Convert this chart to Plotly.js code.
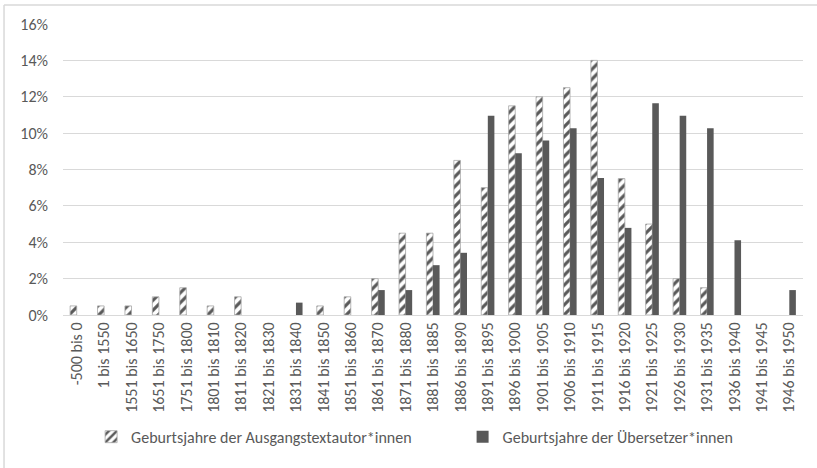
<!DOCTYPE html>
<html>
<head>
<meta charset="utf-8">
<script src="https://cdn.plot.ly/plotly-3.0.1.min.js"></script>
<style>
html,body{margin:0;padding:0;background:#fff;}
#chart{width:817px;height:468px;}
</style>
</head>
<body>
<div id="chart"></div>
<script>
var categories = ["-500 bis 0","1 bis 1550","1551 bis 1650","1651 bis 1750","1751 bis 1800","1801 bis 1810","1811 bis 1820","1821 bis 1830","1831 bis 1840","1841 bis 1850","1851 bis 1860","1861 bis 1870","1871 bis 1880","1881 bis 1885","1886 bis 1890","1891 bis 1895","1896 bis 1900","1901 bis 1905","1906 bis 1910","1911 bis 1915","1916 bis 1920","1921 bis 1925","1926 bis 1930","1931 bis 1935","1936 bis 1940","1941 bis 1945","1946 bis 1950"];
var authorValues = [0.005,0.005,0.005,0.010,0.015,0.005,0.010,null,null,0.005,0.010,0.020,0.045,0.045,0.085,0.070,0.115,0.120,0.125,0.140,0.075,0.050,0.020,0.015,null,null,null];
var translatorValues = [null,null,null,null,null,null,null,null,0.0068,null,null,0.0137,0.0137,0.0274,0.0342,0.1096,0.0890,0.0959,0.1027,0.0753,0.0479,0.1164,0.1096,0.1027,0.0411,null,0.0137];
var seriesNames = ["Geburtsjahre der Ausgangstextautor*innen","Geburtsjahre der Übersetzer*innen"];
var yTicks = [0,0.02,0.04,0.06,0.08,0.10,0.12,0.14,0.16];

var font = "Carlito, 'Liberation Sans', 'Noto Sans', sans-serif";
var traces = [
  {type:'bar', name:seriesNames[0], x:categories, y:authorValues, legend:'legend',
   marker:{color:'#ffffff', line:{color:'#a6a6a6', width:0.8},
     pattern:{shape:'/', fgcolor:'#595959', bgcolor:'#ffffff', size:7, solidity:0.45}},
   hoverinfo:'x+y'},
  {type:'bar', name:seriesNames[1], x:categories, y:translatorValues, legend:'legend2',
   marker:{color:'#595959', line:{width:0}}, hoverinfo:'x+y'}
];
var legendCommon = {orientation:'h', y:-0.36, yanchor:'top', xanchor:'left',
  font:{size:16, color:'#595959'}, itemwidth:30, bgcolor:'rgba(0,0,0,0)'};
var layout = {
  width:817, height:468,
  margin:{l:63, r:14, t:24, b:153},
  paper_bgcolor:'#ffffff', plot_bgcolor:'#ffffff',
  font:{family:font, color:'#595959', size:16},
  barmode:'group', bargap:0.52, bargroupgap:0,
  showlegend:true,
  legend:Object.assign({x:0.038}, legendCommon),
  legend2:Object.assign({x:0.54}, legendCommon),
  xaxis:{type:'category', tickangle:-90, showgrid:false, zeroline:false,
    showline:true, linecolor:'#d9d9d9', linewidth:1, ticks:'',
    tickfont:{size:16, color:'#595959'}, automargin:false},
  yaxis:{range:[0,0.16], tickvals:yTicks, tickformat:'.0%', showgrid:true,
    gridcolor:'#d9d9d9', gridwidth:1, zeroline:false, showline:false, ticks:'',
    ticklabelstandoff:14, tickfont:{size:16, color:'#595959'}, automargin:false},
  shapes:[
    {type:'line', xref:'paper', yref:'paper', x0:-0.0797, x1:1.05, y0:1.0653, y1:1.0653, line:{color:'#d9d9d9', width:1.5}},
    {type:'line', xref:'paper', yref:'paper', x0:-0.0797, x1:-0.0797, y0:1.0653, y1:-0.6, line:{color:'#d9d9d9', width:1.5}}
  ]
};
Plotly.newPlot('chart', traces, layout, {displayModeBar:false, staticPlot:true});
</script>
</body>
</html>
